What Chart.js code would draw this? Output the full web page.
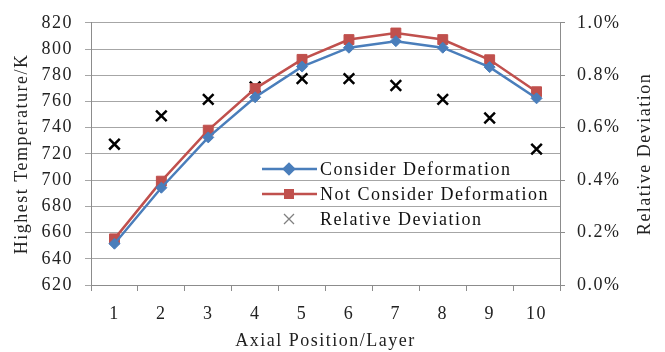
<!DOCTYPE html>
<html><head><meta charset="utf-8">
<script src="https://cdn.jsdelivr.net/npm/chart.js@4/dist/chart.umd.min.js"></script>
<style>html,body{margin:0;padding:0;background:#fff;}canvas{display:block;}</style>
</head><body>
<canvas id="c" width="665" height="352"></canvas>
<script>
const categories = ['1','2','3','4','5','6','7','8','9','10'];
const considerDeformation = [651.5, 694.2, 732.6, 763.2, 786.6, 801.0, 806.0, 801.0, 786.2, 762.4];
const notConsiderDeformation = [655.2, 699.2, 738.1, 769.8, 792.1, 807.2, 812.2, 807.2, 791.8, 767.4];
const relativeDeviation = [0.00537, 0.00645, 0.00708, 0.00755, 0.00787, 0.00787, 0.00761, 0.00708, 0.00637, 0.00518];
const seriesNames = ['Consider Deformation', 'Not Consider Deformation', 'Relative Deviation'];
const leftAxisTitle = 'Highest Temperature/K';
const rightAxisTitle = 'Relative Deviation';
const xAxisTitle = 'Axial Position/Layer';

const BLUE = '#4a7ebb', RED = '#c0504d';
const FONT = 'Liberation Serif, Times New Roman, serif';
const SPACING = '1.5px';

const spacingPlugin = {
  id: 'spacing',
  beforeInit(c){ c.ctx.letterSpacing = SPACING; },
  beforeUpdate(c){ c.ctx.letterSpacing = SPACING; },
  beforeDraw(c){ c.ctx.letterSpacing = SPACING; }
};

const legendPlugin = {
  id: 'innerLegend',
  afterDatasetsDraw(c){
    const ctx = c.ctx;
    ctx.save();
    ctx.letterSpacing = SPACING;
    ctx.font = '18px ' + FONT;
    ctx.fillStyle = '#000';
    ctx.textBaseline = 'middle';
    ctx.textAlign = 'left';
    const rows = [169, 194, 219];
    const x0 = 262, x1 = 317, xm = 289, xt = 320;
    ctx.strokeStyle = BLUE; ctx.lineWidth = 2.5;
    ctx.beginPath(); ctx.moveTo(x0, rows[0]); ctx.lineTo(x1, rows[0]); ctx.stroke();
    Chart.helpers.drawPoint(ctx, {pointStyle:'rectRot', radius:5, borderWidth:1}, xm, rows[0]);
    ctx.fillStyle = BLUE; ctx.fill();
    ctx.strokeStyle = RED;
    ctx.beginPath(); ctx.moveTo(x0, rows[1]); ctx.lineTo(x1, rows[1]); ctx.stroke();
    ctx.fillStyle = RED; ctx.fillRect(xm-5, rows[1]-5, 10, 10);
    ctx.strokeStyle = '#808080'; ctx.lineWidth = 1.3;
    ctx.beginPath(); ctx.moveTo(xm-5, rows[2]-5); ctx.lineTo(xm+5, rows[2]+5);
    ctx.moveTo(xm+5, rows[2]-5); ctx.lineTo(xm-5, rows[2]+5); ctx.stroke();
    ctx.fillStyle = '#111';
    seriesNames.forEach((n,i)=>ctx.fillText(n, xt, rows[i]+1));
    // right axis title, reading bottom-to-top
    ctx.translate(645, (c.chartArea.top + c.chartArea.bottom)/2);
    ctx.rotate(-Math.PI/2);
    ctx.textAlign = 'center';
    ctx.fillStyle = '#222';
    ctx.fillText(rightAxisTitle, 0, 0);
    ctx.restore();
  }
};

new Chart(document.getElementById('c'), {
  type: 'line',
  data: {
    labels: categories,
    datasets: [
      { label: seriesNames[0], data: considerDeformation, yAxisID: 'y', borderColor: BLUE, backgroundColor: BLUE,
        borderWidth: 2.5, pointStyle: 'rectRot', pointRadius: 5.5, pointBorderWidth: 1, tension: 0 },
      { label: seriesNames[1], data: notConsiderDeformation, yAxisID: 'y', borderColor: RED, backgroundColor: RED,
        borderWidth: 2.5, pointStyle: 'rect', pointRadius: 7, pointBorderWidth: 1, tension: 0 },
      { label: seriesNames[2], data: relativeDeviation, yAxisID: 'y1', showLine: false, borderColor: '#000', backgroundColor: '#000',
        pointStyle: 'crossRot', pointRadius: 7.5, pointBorderWidth: 2.5 }
    ]
  },
  options: {
    responsive: false, animation: false, devicePixelRatio: 1,
    layout: { padding: { top: 18, left: 0, right: 0, bottom: 0 } },
    plugins: { legend: { display: false }, tooltip: { enabled: false } },
    scales: {
      x: {
        offset: true,
        grid: { drawOnChartArea: false, drawTicks: true, tickLength: 6, offset: true, color: '#8c8c8c' },
        border: { display: true, color: '#8c8c8c' },
        ticks: { font: { family: FONT, size: 18 }, color: '#222', padding: 12, maxRotation: 0 },
        title: { display: true, text: xAxisTitle, font: { family: FONT, size: 18 }, color: '#222', padding: { top: 0, bottom: 0 } },
        afterFit(s){ s.height = 67; }
      },
      y: {
        position: 'left', min: 620, max: 820,
        grid: { color: '#a6a6a6', tickLength: 6, drawTicks: true },
        border: { display: true, color: '#8c8c8c' },
        ticks: { stepSize: 20, font: { family: FONT, size: 18 }, color: '#222', padding: 12 },
        title: { display: true, text: leftAxisTitle, font: { family: FONT, size: 18 }, color: '#222', padding: { top: 11, bottom: 0 } },
        afterFit(s){ s.width = 91; }
      },
      y1: {
        position: 'right', min: 0, max: 0.01,
        grid: { drawOnChartArea: false, color: '#8c8c8c', tickLength: 5 },
        border: { display: true, color: '#8c8c8c' },
        ticks: { stepSize: 0.002, font: { family: FONT, size: 18 }, color: '#222', padding: 12,
          callback: v => (v*100).toFixed(1) + '%' },
        title: { display: false },
        afterFit(s){ s.width = 105; }
      }
    }
  },
  plugins: [spacingPlugin, legendPlugin]
});
</script>
</body></html>
